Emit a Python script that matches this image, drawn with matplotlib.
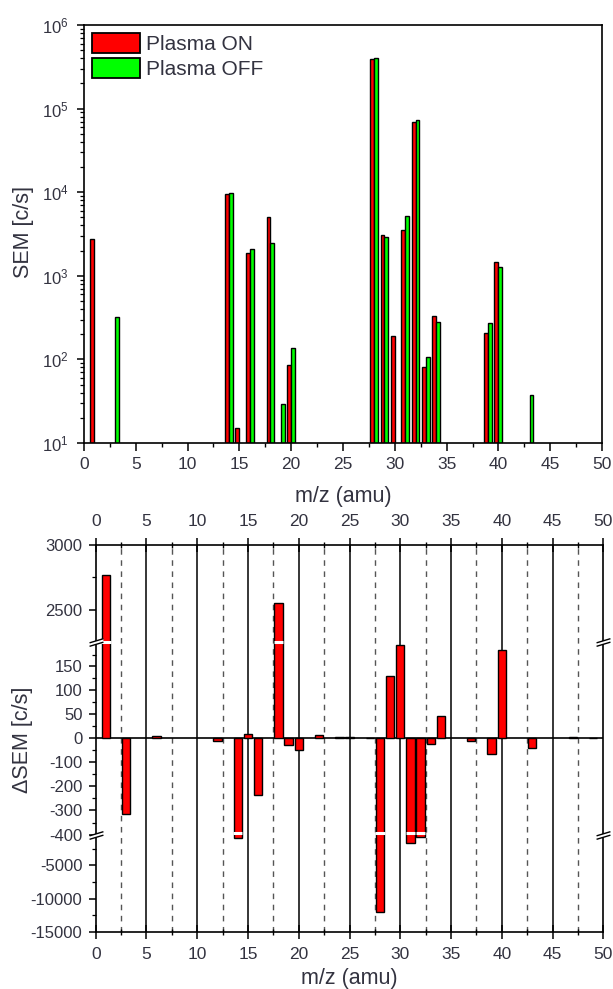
import matplotlib
matplotlib.use("Agg")
import matplotlib.pyplot as plt
import numpy as np
from matplotlib.path import Path
from matplotlib.patches import Patch
from matplotlib.ticker import FixedLocator, MultipleLocator, LogLocator, NullFormatter

plt.rcParams['font.family'] = ['Liberation Sans', 'DejaVu Sans']
txt = '#333340'

# SEM counts per mass, plasma on / off (0 = below detection)
mz = np.array([1, 3, 14, 15, 16, 18, 19, 20, 28, 29, 30, 31, 32, 33, 34, 39, 40, 43])
sem_on = np.array([2780, 0, 9440, 15, 1855, 5000, 0, 86, 390000, 3060, 192,
                   3530, 69700, 82, 333, 208, 1475, 0])
sem_off = np.array([0, 318, 9860, 7, 2090, 2450, 29, 136, 405000, 2930, 0,
                    5190, 73100, 106, 282, 270, 1290, 37.5])

# difference ON - OFF
dmz = np.array([1, 3, 6, 12, 14, 15, 16, 18, 19, 20, 22, 24, 25, 27, 28, 29,
                30, 31, 32, 33, 34, 37, 39, 40, 43, 47, 49])
dsem = np.array([2770, -315, 3, -12, -880, 8, -235, 2552, -30, -52, 5, 2, 2, -3,
                 -12080, 129, 195, -1700, -700, -25, 46, -14, -67, 185, -42, 2, -3])

# broken y axis: piecewise linear value -> position
brk_val = np.array([-1e6, -15000, -400, 0, 200, 2250, 3000, 1e6])
brk_pos = np.array([0 - (1e6 - 15000) * 97 / 14600, 0, 97, 194, 289, 290, 386.7,
                    386.7 + (1e6 - 3000) * 96.7 / 750])


def fwd(v):
    return np.interp(v, brk_val, brk_pos)


def inv(p):
    return np.interp(p, brk_pos, brk_val)


fig = plt.figure(figsize=(6.13, 9.89), dpi=100)

# ---- top: absolute SEM signal ----
ax1 = fig.add_axes([0.1370, 0.5521, 0.8451, 0.4226])
on = sem_on > 0
off = sem_off > 0
w = 0.38
ax1.bar(mz[on] - 0.19, sem_on[on], width=w, color='#ff0000', edgecolor='black',
        linewidth=1.0, log=True)
ax1.bar(mz[off] + 0.19, sem_off[off], width=w, color='#00ff00', edgecolor='black',
        linewidth=1.0, log=True)
ax1.set_yscale('log')
ax1.set_ylim(10, 1e6)
ax1.set_xlim(0, 50)
ax1.xaxis.set_major_locator(MultipleLocator(5))
ax1.xaxis.set_minor_locator(MultipleLocator(2.5))
ax1.yaxis.set_major_locator(LogLocator(base=10))
ax1.yaxis.set_minor_locator(LogLocator(base=10, subs=np.arange(2, 10)))
ax1.yaxis.set_minor_formatter(NullFormatter())
ax1.tick_params(axis='x', which='major', direction='out', length=5.5, width=1.1,
                pad=4.5, labelsize=12.5, labelcolor=txt)
ax1.tick_params(axis='x', which='minor', direction='out', length=3, width=1.0)
ax1.tick_params(axis='y', which='major', direction='out', length=5, width=1.1,
                pad=6, labelsize=12, labelcolor=txt)
ax1.tick_params(axis='y', which='minor', direction='out', length=3, width=0.9)
for s in ax1.spines.values():
    s.set_linewidth(1.2)
ax1.set_xlabel('m/z (amu)', fontsize=15.5, color=txt)
ax1.xaxis.set_label_coords(0.5, -0.129)
ax1.xaxis.label.set_va('center')
ax1.set_ylabel('SEM [c/s]', fontsize=15.5, color=txt)
ax1.yaxis.set_label_coords(-0.116, 0.505)
ax1.yaxis.label.set_va('center')
handles = [Patch(facecolor='#ff0000', edgecolor='black', linewidth=1.3),
           Patch(facecolor='#00ff00', edgecolor='black', linewidth=1.3)]
ax1.legend(handles, ['Plasma ON', 'Plasma OFF'], loc='upper left',
           bbox_to_anchor=(0.016, 0.982), frameon=False, fontsize=15,
           handlelength=2.3, handleheight=1.1, labelspacing=0.2,
           handletextpad=0.3, borderpad=0, borderaxespad=0, labelcolor=txt)

# ---- bottom: difference with broken axis ----
ax2 = fig.add_axes([0.1561, 0.0579, 0.8281, 0.3910])
ax2.set_yscale('function', functions=(fwd, inv))
ax2.set_ylim(-15000, 3000)
ax2.set_xlim(0, 50)

for x in np.arange(5, 50, 5):
    ax2.axvline(x, color='black', lw=1.1, zorder=0.5)
for x in np.arange(2.5, 50, 5):
    ax2.axvline(x, color='#555555', lw=1.0, ls=(0, (4, 4)), zorder=0.5)
ax2.axhline(0, color='black', lw=1.2, zorder=1)

bw = 0.82
ax2.bar(dmz, dsem, width=bw, color='#ff0000', edgecolor='black', linewidth=1.0,
        zorder=2)

# white gaps where bars pass through the axis breaks
for x, v in zip(dmz, dsem):
    if v > 2250:
        ax2.plot([x - bw / 2 - 0.05, x + bw / 2 + 0.05], [1200, 1200],
                 color='white', lw=2.2, zorder=2.5, solid_capstyle='butt')
    if v < -400:
        ax2.plot([x - bw / 2 - 0.05, x + bw / 2 + 0.05], [-392, -392],
                 color='white', lw=2.2, zorder=2.5, solid_capstyle='butt')

# break symbols on both side spines
gap = Path([(-1, -0.55), (1, 0.05), (1, 0.55), (-1, -0.05), (-1, -0.55)])
strokes = Path([(-1, -0.55), (1, 0.05), (-1, -0.05), (1, 0.55)],
               [Path.MOVETO, Path.LINETO, Path.MOVETO, Path.LINETO])
for yb in (1200, -400):
    for xa in (0, 1):
        ax2.plot([xa], [yb], marker=gap, ms=10, mfc='white', mec='none',
                 transform=ax2.get_yaxis_transform(), clip_on=False, zorder=5)
        ax2.plot([xa], [yb], marker=strokes, ms=10, mfc='none', mec='black',
                 mew=1.0, transform=ax2.get_yaxis_transform(), clip_on=False,
                 zorder=6)

ax2.yaxis.set_major_locator(FixedLocator([-15000, -10000, -5000, -400, -300, -200,
                                          -100, 0, 50, 100, 150, 2500, 3000]))
ax2.yaxis.set_minor_locator(FixedLocator([-12500, -7500, -2500, -350, -250, -150,
                                          -50, 25, 75, 125, 175, 2750]))
ax2.yaxis.set_major_formatter(plt.FuncFormatter(lambda v, p: '%d' % v))
ax2.yaxis.set_minor_formatter(NullFormatter())
ax2.xaxis.set_major_locator(MultipleLocator(5))
ax2.xaxis.set_minor_locator(MultipleLocator(2.5))
ax2.tick_params(axis='x', which='major', direction='inout', length=10.5, width=1.1,
                top=True, labeltop=True, labelsize=12.5, labelcolor=txt, pad=6)
ax2.tick_params(axis='x', which='minor', direction='inout', length=5, width=1.0,
                top=True)
ax2.tick_params(axis='y', which='major', direction='out', length=5, width=1.1,
                pad=4.5, labelsize=12, labelcolor=txt)
ax2.tick_params(axis='y', which='minor', direction='out', length=3, width=0.9)
for s in ax2.spines.values():
    s.set_linewidth(1.2)
ax2.set_xlabel('m/z (amu)', fontsize=15.5, color=txt)
ax2.xaxis.set_label_coords(0.5, -0.12)
ax2.xaxis.label.set_va('center')
ax2.set_ylabel('ΔSEM [c/s]', fontsize=15.5, color=txt)
ax2.yaxis.set_label_coords(-0.145, 0.496)
ax2.yaxis.label.set_va('center')

fig.savefig('out.png', dpi=100)
